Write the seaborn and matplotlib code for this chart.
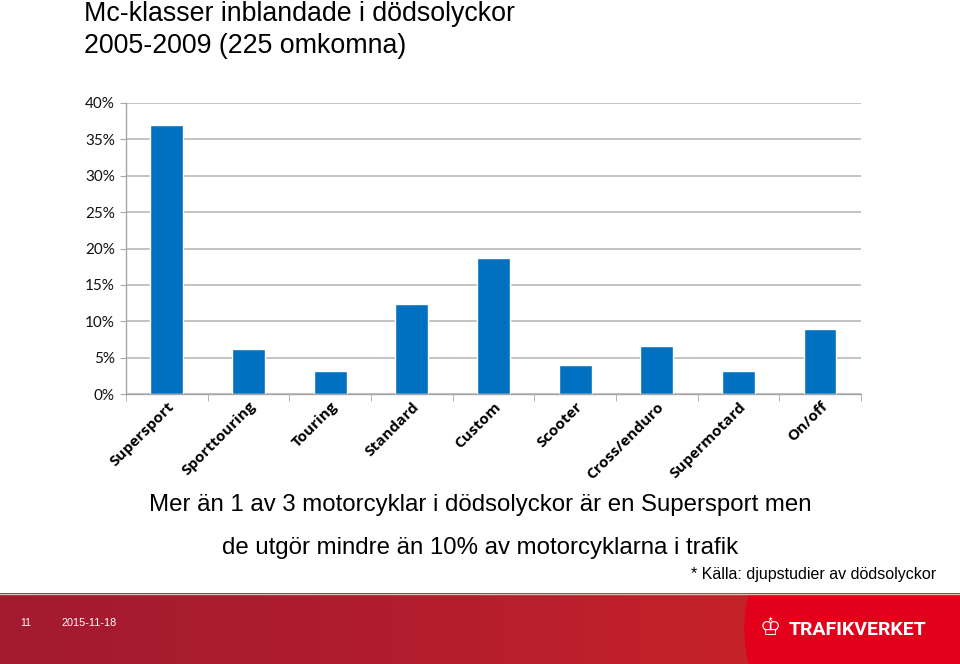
import matplotlib
matplotlib.use("Agg")
import matplotlib.pyplot as plt
import seaborn as sns
import numpy as np
import pandas as pd
from matplotlib.patches import Ellipse
from matplotlib.colors import LinearSegmentedColormap
from matplotlib.ticker import FuncFormatter, MultipleLocator

# Andel omkomna per mc-klass (av 225 omkomna 2005-2009)
classes = ['Supersport', 'Sporttouring', 'Touring', 'Standard', 'Custom',
           'Scooter', 'Cross/enduro', 'Supermotard', 'On/off']
shares = [37.0, 6.2, 3.1, 12.4, 18.7, 4.0, 6.6, 3.1, 8.9]

title_lines = ['Mc-klasser inblandade i dödsolyckor', '2005-2009 (225 omkomna)']
caption_lines = ['Mer än 1 av 3 motorcyklar i dödsolyckor är en Supersport men',
                 'de utgör mindre än 10% av motorcyklarna i trafik']
source_note = '* Källa: djupstudier av dödsolyckor'
slide_no = '11'
slide_date = '2015-11-18'

df = pd.DataFrame({'klass': classes, 'andel': shares})

sns.set_style('white')
plt.rcParams['font.family'] = ['Liberation Sans', 'DejaVu Sans']
plt.rcParams['text.color'] = 'black'

fig = plt.figure(figsize=(9.6, 6.64), dpi=100)
W, H = 960, 664

ax = fig.add_axes([126 / W, 1 - 394 / H, (861 - 126) / W, (394 - 103) / H])
sns.barplot(data=df, x='klass', y='andel', color='#0070C0', width=0.4,
            saturation=1, ax=ax)

ax.set_ylim(0, 40)
ax.set_xlim(-0.5, len(classes) - 0.5)
ax.yaxis.set_major_locator(MultipleLocator(5))
ax.yaxis.set_major_formatter(FuncFormatter(lambda v, _: f'{v:.0f}%'))
ax.grid(axis='y', color='#B3B3B3', linewidth=1.1)
ax.set_axisbelow(True)
ax.set_xlabel('')
ax.set_ylabel('')

for s in ['top', 'right']:
    ax.spines[s].set_visible(False)
for s in ['left', 'bottom']:
    ax.spines[s].set_color('#A6A6A6')
    ax.spines[s].set_linewidth(1.0)

ax.tick_params(axis='y', which='major', left=True, length=4, color='#A6A6A6',
               labelsize=11, labelcolor='#111111', pad=4)
for lab in ax.get_yticklabels():
    lab.set_family(['Lato', 'DejaVu Sans'])

# category boundaries as minor ticks
ax.set_xticks(np.arange(-0.5, len(classes)), minor=True)
ax.tick_params(axis='x', which='minor', bottom=True, length=5, color='#A6A6A6')
ax.tick_params(axis='x', which='major', bottom=False, length=0, pad=4)
ax.set_xticks(range(len(classes)))
ax.set_xticklabels(classes, rotation=45, ha='right', rotation_mode='anchor',
                   fontsize=11, fontweight='bold', color='black',
                   family=['Open Sans', 'DejaVu Sans'])

# titles and captions
fig.text(84 / W, 1 - 14 / H, title_lines[0], fontsize=19.3, va='center', ha='left')
fig.text(84 / W, 1 - 46 / H, title_lines[1], fontsize=19.3, va='center', ha='left')
fig.text(480 / W, 1 - 505 / H, caption_lines[0], fontsize=17.3, va='center', ha='center')
fig.text(480 / W, 1 - 548 / H, caption_lines[1], fontsize=17.3, va='center', ha='center')
fig.text(936 / W, 1 - 574 / H, source_note, fontsize=11.5, va='center', ha='right')

# footer banner
bax = fig.add_axes([0, 0, 1, 71 / H])
grad = np.linspace(0, 1, 256)[None, :]
cmap = LinearSegmentedColormap.from_list('band', ['#A31A30', '#AE1C2E', '#C0202B', '#D02426'])
bax.imshow(grad, aspect='auto', cmap=cmap, extent=[0, W, 0, 71])
bax.add_patch(Ellipse((1060, 35), 630, 420, color='#E2001A', zorder=2))
bax.axhline(70.5, color='#E8B4B8', linewidth=1.0, zorder=3)
bax.set_xlim(0, W)
bax.set_ylim(0, 71)
bax.axis('off')
bax.text(26, 41, slide_no, color='white', fontsize=7.5, ha='center', va='center')
bax.text(62, 41, slide_date, color='white', fontsize=7.8, ha='left', va='center')
bax.text(789, 34, 'TRAFIKVERKET', color='white', fontsize=14, fontweight='bold',
         ha='left', va='center', family=['Roboto', 'DejaVu Sans'], zorder=4)
bax.text(770, 36, '♔', color='white', fontsize=17, ha='center', va='center',
         family=['DejaVu Sans'], zorder=4)

fig.savefig('out.png', dpi=100)
